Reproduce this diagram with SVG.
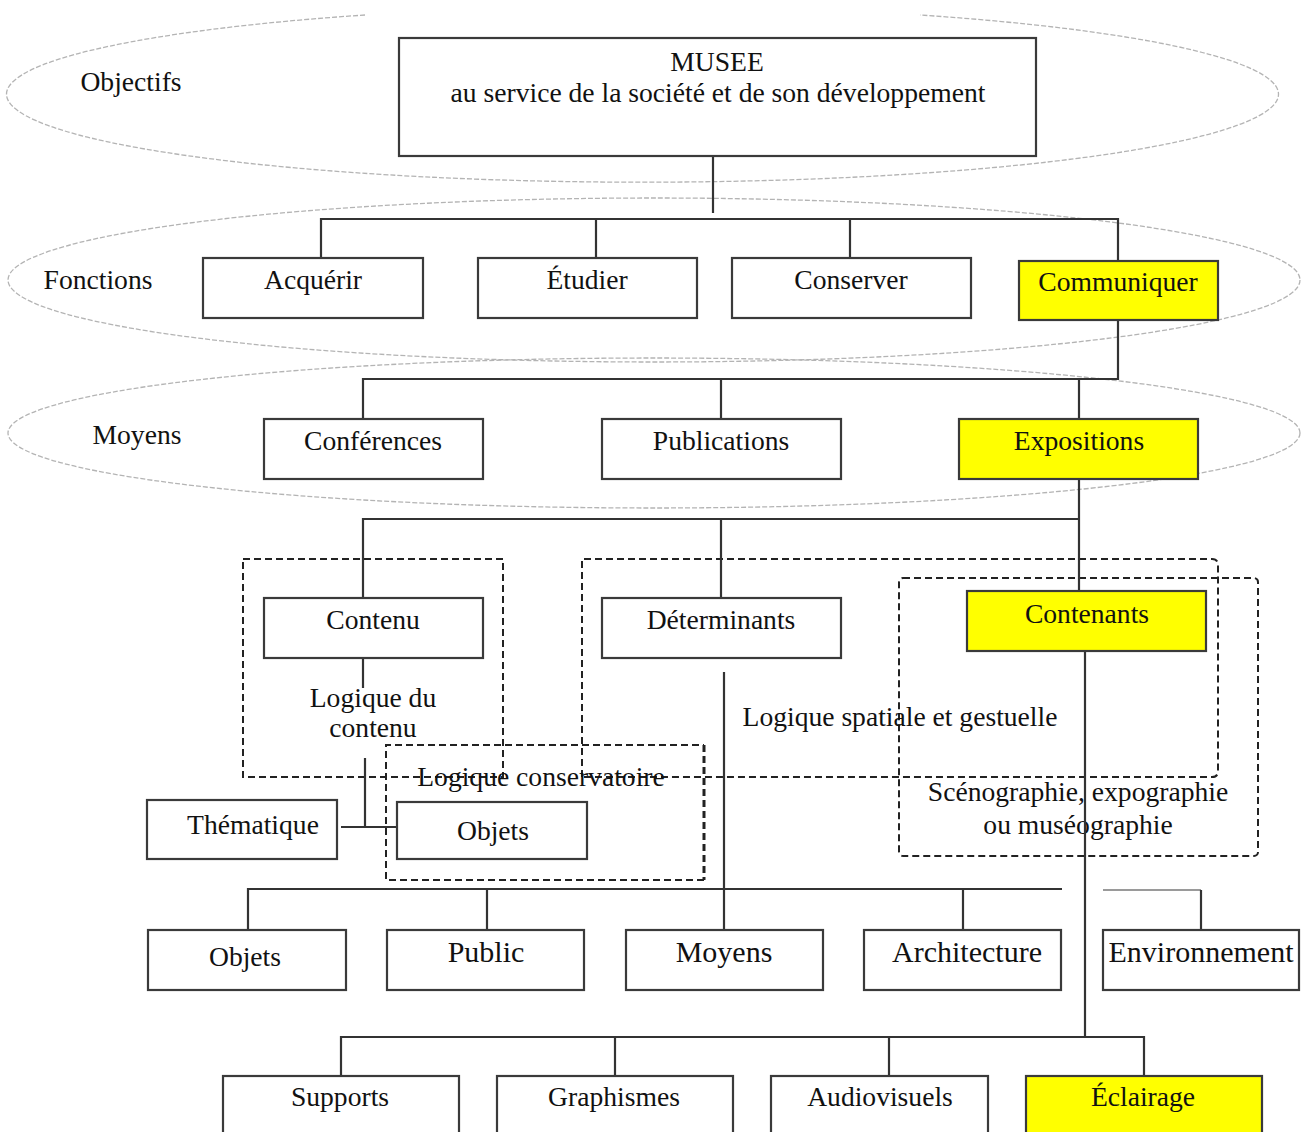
<svg xmlns="http://www.w3.org/2000/svg" width="1312" height="1132" viewBox="0 0 1312 1132">
<style>
.bg{fill:#fff}
.lvl{fill:none;stroke:#b4b4b4;stroke-width:1.3;stroke-dasharray:5 2}
.box{fill:#fff;stroke:#3a3a3a;stroke-width:2.2}
.hl{fill:#ffff00;stroke:#3a3a3a;stroke-width:2.2}
.dash{fill:none;stroke:#222;stroke-width:2;stroke-dasharray:7 4}
.dashb{fill:none;stroke:#222;stroke-width:3;stroke-dasharray:7 4}
.ln{fill:none;stroke:#333;stroke-width:2.2}
.lg{fill:none;stroke:#9a9a9a;stroke-width:2}
text{font-family:"Liberation Serif","Times New Roman",serif;font-size:27.6px;fill:#111;text-anchor:middle}
.big{font-size:30px}
</style>
<rect class="bg" x="0" y="0" width="1312" height="1132"/>

<g id="levels">
  <path class="lvl" d="M 365 15 A 636 88 0 1 0 920 15"/>
  <ellipse class="lvl" cx="654" cy="280" rx="646" ry="82"/>
  <ellipse class="lvl" cx="654" cy="433" rx="646" ry="75"/>
  <text x="131" y="91">Objectifs</text>
  <text x="98" y="289">Fonctions</text>
  <text x="137" y="444">Moyens</text>
</g>

<g id="zones">
  <rect class="dash" x="243" y="559" width="260" height="218"/>
  <path class="dash" d="M 582 777 L 582 559 L 1212 559 Q 1218 559 1218 565 L 1218 771 Q 1218 777 1212 777 Z"/>
  <rect class="dash" x="899" y="578" width="359" height="278" rx="4"/>
  <path class="dash" d="M 704 880 L 386 880 L 386 745 L 704 745"/>
  <path class="dashb" d="M 704 745 L 704 880"/>
  <text x="373" y="707">Logique du</text>
  <text x="373" y="737">contenu</text>
  <text x="541" y="786">Logique conservatoire</text>
  <text x="900" y="726">Logique spatiale et gestuelle</text>
  <text x="1078" y="801">Scénographie, expographie</text>
  <text x="1078" y="834">ou muséographie</text>
</g>

<g id="connectors">
  <path class="ln" d="M 713 156 L 713 213"/>
  <path class="ln" d="M 321 258 L 321 219 L 1118 219 L 1118 261"/>
  <path class="ln" d="M 596 219 L 596 258 M 850 219 L 850 258"/>
  <path class="ln" d="M 1118 320 L 1118 379 L 363 379 L 363 419"/>
  <path class="ln" d="M 721 379 L 721 419 M 1079 379 L 1079 419"/>
  <path class="ln" d="M 1079 479 L 1079 591 M 1079 519 L 363 519 L 363 598 M 721 519 L 721 598"/>
  <path class="ln" d="M 363 658 L 363 688"/>
  <path class="ln" d="M 365 758 L 365 827 M 341 827 L 397 827"/>
  <path class="ln" d="M 724 672 L 724 930"/>
  <path class="ln" d="M 248 930 L 248 889 L 1062 889 M 487 889 L 487 930 M 963 889 L 963 930"/>
  <path class="lg" d="M 1103 890 L 1201 890"/>
  <path class="ln" d="M 1201 890 L 1201 930"/>
  <path class="ln" d="M 1085 651 L 1085 1037 M 341 1076 L 341 1037 L 1144 1037 L 1144 1076 M 615 1037 L 615 1076 M 889 1037 L 889 1076"/>
</g>

<g id="musee">
  <rect class="box" x="399" y="38" width="637" height="118"/>
  <text x="717" y="71">MUSEE</text>
  <text x="718" y="102">au service de la société et de son développement</text>
</g>

<g id="acquerir"><rect class="box" x="203" y="258" width="220" height="60"/><text x="313" y="289">Acquérir</text></g>
<g id="etudier"><rect class="box" x="478" y="258" width="219" height="60"/><text x="587" y="289">Étudier</text></g>
<g id="conserver"><rect class="box" x="732" y="258" width="239" height="60"/><text x="851" y="289">Conserver</text></g>
<g id="communiquer"><rect class="hl" x="1019" y="261" width="199" height="59"/><text x="1118" y="291">Communiquer</text></g>

<g id="conferences"><rect class="box" x="264" y="419" width="219" height="60"/><text x="373" y="450">Conférences</text></g>
<g id="publications"><rect class="box" x="602" y="419" width="239" height="60"/><text x="721" y="450">Publications</text></g>
<g id="expositions"><rect class="hl" x="959" y="419" width="239" height="60"/><text x="1079" y="450">Expositions</text></g>

<g id="contenu"><rect class="box" x="264" y="598" width="219" height="60"/><text x="373" y="629">Contenu</text></g>
<g id="determinants"><rect class="box" x="602" y="598" width="239" height="60"/><text x="721" y="629">Déterminants</text></g>
<g id="contenants"><rect class="hl" x="967" y="591" width="239" height="60"/><text x="1087" y="623">Contenants</text></g>

<g id="thematique"><rect class="box" x="147" y="800" width="190" height="59"/><text x="253" y="834">Thématique</text></g>
<g id="objets1"><rect class="box" x="397" y="802" width="190" height="57"/><text x="493" y="840">Objets</text></g>

<g id="objets2"><rect class="box" x="148" y="930" width="198" height="60"/><text x="245" y="966">Objets</text></g>
<g id="public"><rect class="box" x="387" y="930" width="197" height="60"/><text class="big" x="486" y="962">Public</text></g>
<g id="moyens"><rect class="box" x="626" y="930" width="197" height="60"/><text class="big" x="724" y="962">Moyens</text></g>
<g id="architecture"><rect class="box" x="864" y="930" width="197" height="60"/><text class="big" x="967" y="962">Architecture</text></g>
<g id="environnement"><rect class="box" x="1103" y="930" width="196" height="60"/><text class="big" x="1201" y="962">Environnement</text></g>

<g id="supports"><rect class="box" x="223" y="1076" width="236" height="70"/><text x="340" y="1106">Supports</text></g>
<g id="graphismes"><rect class="box" x="497" y="1076" width="236" height="70"/><text x="614" y="1106">Graphismes</text></g>
<g id="audiovisuels"><rect class="box" x="771" y="1076" width="217" height="70"/><text x="880" y="1106">Audiovisuels</text></g>
<g id="eclairage"><rect class="hl" x="1026" y="1076" width="236" height="70"/><text x="1143" y="1106">Éclairage</text></g>
</svg>
